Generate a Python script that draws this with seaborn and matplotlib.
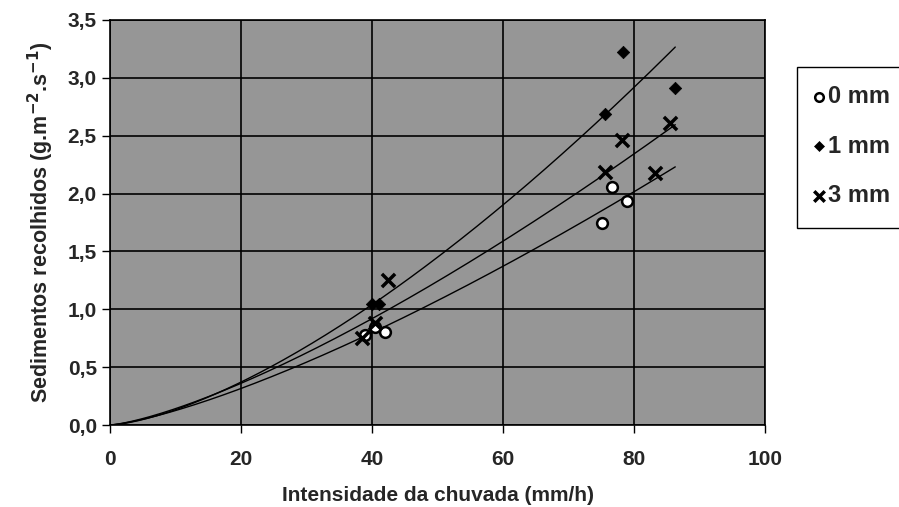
import numpy as np
import pandas as pd
import matplotlib
matplotlib.use("Agg")
import matplotlib.pyplot as plt
import matplotlib.patches as mpatches
import seaborn as sns

# Data
x_0mm = [39.0, 40.5, 42.0, 75.1, 76.6, 78.9]
y_0mm = [0.78, 0.85, 0.80, 1.75, 2.06, 1.94]
x_1mm = [40.0, 41.0, 75.6, 78.3, 86.3]
y_1mm = [1.05, 1.05, 2.69, 3.22, 2.91]
x_3mm = [38.5, 40.5, 42.4, 75.6, 78.2, 83.2, 85.5]
y_3mm = [0.75, 0.88, 1.25, 2.19, 2.46, 2.18, 2.61]
series = ["0 mm", "1 mm", "3 mm"]
x_ticks = [0, 20, 40, 60, 80, 100]
y_ticks = [0.0, 0.5, 1.0, 1.5, 2.0, 2.5, 3.0, 3.5]

sns.set_style("white")
plt.rcParams["font.family"] = ["Liberation Sans", "DejaVu Sans"]
plt.rcParams["font.weight"] = "bold"

df = pd.concat([
    pd.DataFrame({"x": x_0mm, "y": y_0mm, "s": series[0]}),
    pd.DataFrame({"x": x_1mm, "y": y_1mm, "s": series[1]}),
    pd.DataFrame({"x": x_3mm, "y": y_3mm, "s": series[2]}),
])

W, H = 899, 507
fig = plt.figure(figsize=(8.99, 5.07), dpi=100)
ax = fig.add_axes([110/W, 1-425/H, (765-110)/W, (425-20)/H])
ax.set_facecolor("#969696")

# power trendlines, drawn from the origin to the largest intensity
xmax = max(max(x_0mm), max(x_1mm), max(x_3mm))
xx = np.linspace(0.01, xmax, 200)
for xs, ys in [(x_0mm, y_0mm), (x_1mm, y_1mm), (x_3mm, y_3mm)]:
    b, la = np.polyfit(np.log(xs), np.log(ys), 1)
    sns.lineplot(x=xx, y=np.exp(la) * xx ** b, ax=ax, color="black", lw=1.0)

sub = df[df.s == series[0]]
sns.scatterplot(data=sub, x="x", y="y", ax=ax, marker="o", s=60, color="white",
                edgecolor="black", linewidth=1.8, label=series[0], zorder=3)
sub = df[df.s == series[1]]
sns.scatterplot(data=sub, x="x", y="y", ax=ax, marker="D", s=40, color="black",
                edgecolor="black", label=series[1], zorder=3)
sub = df[df.s == series[2]]
sns.scatterplot(data=sub, x="x", y="y", ax=ax, marker="x", s=90, color="black",
                linewidth=2.5, label=series[2], zorder=3)

ax.set_xlim(0, 100)
ax.set_ylim(0, 3.5)
ax.set_xticks(x_ticks)
ax.set_yticks(y_ticks)
ax.set_yticklabels([f"{v:.1f}".replace(".", ",") for v in y_ticks])
ax.set_xticklabels([str(v) for v in x_ticks])
ax.grid(True, color="black", lw=1.2)
ax.set_axisbelow(True)
for sp in ax.spines.values():
    sp.set_color("black")
    sp.set_linewidth(1.2)
ax.tick_params(axis="both", direction="out", length=6, width=1, labelsize=15,
               bottom=True, left=True, color="black")
ax.tick_params(axis="x", pad=12)
ax.set_xlabel("Intensidade da chuvada (mm/h)", fontsize=15, fontweight="bold", labelpad=12)
ax.set_ylabel("Sedimentos recolhidos (g.m$^{\\mathbf{-2}}$.s$^{\\mathbf{-1}}$)",
              fontsize=15.5, fontweight="bold", labelpad=8)

# legend box (extends past the right edge as in the reference)
fig.patches.append(mpatches.Rectangle((797/W, 1-228/H), (910-797)/W, (228-67)/H,
                                      transform=fig.transFigure, facecolor="white",
                                      edgecolor="black", linewidth=1.0, zorder=1))
h, l = ax.get_legend_handles_labels()
ax.get_legend().remove()
leg = fig.legend(h, l, loc="upper left", bbox_to_anchor=(811/W, 1-85/H),
                 frameon=False, fontsize=17, borderpad=0.0, borderaxespad=0.0,
                 handletextpad=0.0, labelspacing=1.13, handlelength=0.7,
                 markerscale=0.8)
leg.set_zorder(2)

fig.savefig("out.png", dpi=100)
